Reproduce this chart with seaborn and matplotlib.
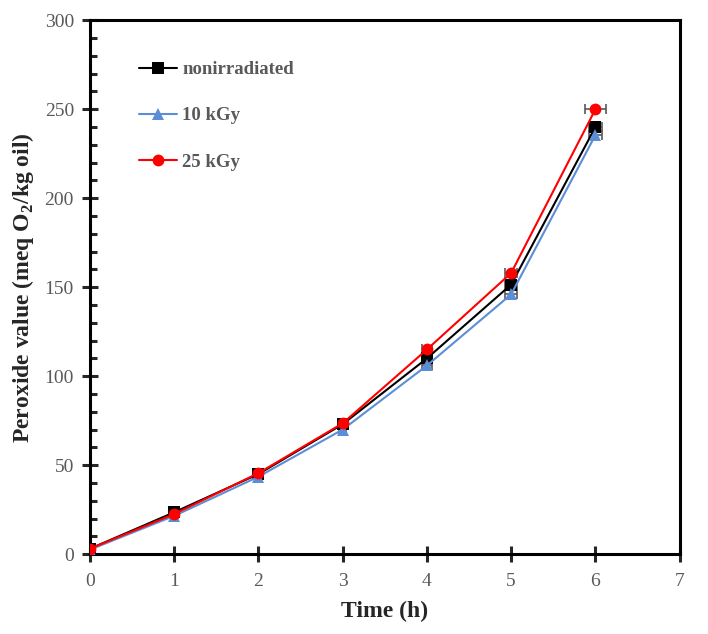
import numpy as np
import pandas as pd
import matplotlib
matplotlib.use('Agg')
import matplotlib.pyplot as plt
import seaborn as sns
from matplotlib.ticker import MultipleLocator

# dane
time_h = [0, 1, 2, 3, 4, 5, 6]
nonirradiated = [3, 23.5, 45, 73, 110, 151.5, 240]
kgy10 = [2.5, 21.5, 43.5, 70, 106, 146, 235.5]
kgy25 = [3, 22.5, 45.5, 73.5, 115, 158, 250]
# błędy (poziome, w h)
err_non = [0, 0.03, 0.03, 0.04, 0.06, 0.07, 0.08]
err_10 = [0, 0.03, 0.03, 0.04, 0.06, 0.07, 0.08]
err_25 = [0, 0.03, 0.03, 0.04, 0.06, 0.07, 0.12]

labels = ['nonirradiated', '10 kGy', '25 kGy']
colors = ['#000000', '#5B8ED6', '#FF0000']
markers = ['s', '^', 'o']

sns.set_style('white')
plt.rcParams['font.family'] = ['Liberation Serif', 'DejaVu Serif']
plt.rcParams['mathtext.fontset'] = 'custom'
plt.rcParams['mathtext.bf'] = 'Liberation Serif:bold'
plt.rcParams['mathtext.rm'] = 'Liberation Serif'

df = pd.DataFrame({
    'time': time_h * 3,
    'pv': nonirradiated + kgy10 + kgy25,
    'sample': [labels[0]] * 7 + [labels[1]] * 7 + [labels[2]] * 7,
})

fig = plt.figure(figsize=(7.08, 6.34), dpi=100)
ax = fig.add_axes([0.127, 0.126, 0.833, 0.842])

for lab, vals, err in zip(labels, [nonirradiated, kgy10, kgy25], [err_non, err_10, err_25]):
    ax.errorbar(time_h, vals, xerr=err, fmt='none', ecolor='#595959',
                elinewidth=1.2, capsize=3.5, capthick=1.2, zorder=1)

sns.lineplot(data=df, x='time', y='pv', hue='sample', style='sample',
             hue_order=labels, style_order=labels, palette=colors,
             markers=dict(zip(labels, markers)), dashes=False,
             markersize=8.5, markeredgewidth=0, linewidth=1.5, ax=ax, zorder=3)

ax.set_xlim(0, 7)
ax.set_ylim(0, 300)
ax.xaxis.set_major_locator(MultipleLocator(1))
ax.yaxis.set_major_locator(MultipleLocator(50))
ax.yaxis.set_minor_locator(MultipleLocator(10))

for s in ax.spines.values():
    s.set_linewidth(2.2)
    s.set_color('black')

ax.tick_params(axis='x', which='major', direction='inout', length=11, width=2.2,
               labelsize=14, labelcolor='#595959', pad=8, bottom=True)
ax.tick_params(axis='y', which='major', direction='inout', length=11, width=2.2,
               labelsize=14, labelcolor='#595959', pad=6, left=True)
ax.tick_params(axis='y', which='minor', direction='in', length=5, width=2.2, left=True)

ax.set_xlabel('Time (h)', fontsize=17, fontweight='bold', labelpad=8)
ax.set_ylabel(r'Peroxide value (meq O$_\mathbf{2}$/kg oil)', fontsize=17,
              fontweight='bold', labelpad=6)

leg = ax.legend(loc='upper left', bbox_to_anchor=(0.055, 0.955), frameon=False,
                labelspacing=1.55, handlelength=2.0, handletextpad=0.3,
                prop={'weight': 'bold', 'size': 13.5})
for t in leg.get_texts():
    t.set_color('#595959')

fig.savefig('out.png', dpi=100)
